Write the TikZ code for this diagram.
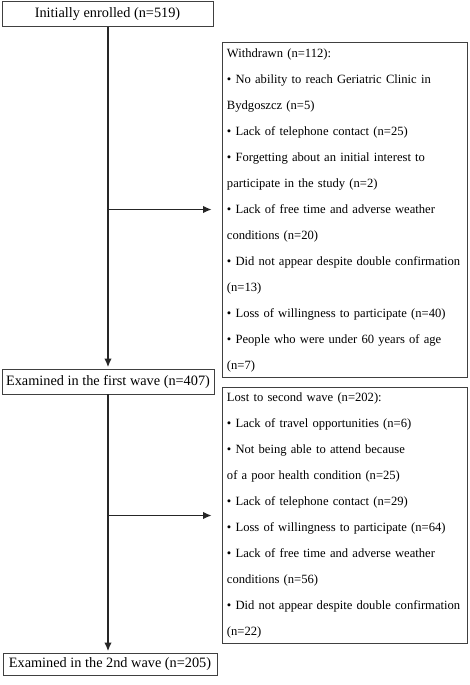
\documentclass[tikz,border=0pt]{standalone}
\usepackage{fontspec}
\setmainfont{Liberation Serif}
\usetikzlibrary{arrows.meta}
\begin{document}
\begin{tikzpicture}[x=1pt,y=-1pt,
  mainbox/.style={draw=black!75, line width=0.9pt, inner sep=0pt, minimum height=25pt,
    font=\fontsize{14.3}{16}\selectfont},
  sidebox/.style={draw=black!75, line width=0.9pt, anchor=north west, text width=236pt,
    align=left, inner xsep=4.5pt, inner ysep=5.5pt, font=\fontsize{12.6}{26}\selectfont},
  arr/.style={line width=1.2pt, draw=black!85, -{Latex[length=8.5pt,width=7.5pt]}}]
\useasboundingbox (0,0) rectangle (469,685);
\fill[white] (0,0) rectangle (469,685);

\node[mainbox, minimum width=211pt] (b1) at (107.5,14.2) {Initially enrolled (n=519)};
\node[mainbox, minimum width=212pt] (b2) at (108,381.5) {Examined in the first wave (n=407)};
\node[mainbox, minimum width=214pt, minimum height=22pt] (b3) at (110,664) {Examined in the 2nd wave (n=205)};

\node[sidebox] (wd) at (222,42.5) {Withdrawn (n=112):\\
\mbox{• No ability to reach Geriatric Clinic in}\\
Bydgoszcz (n=5)\\
\mbox{• Lack of telephone contact (n=25)}\\
\mbox{• Forgetting about an initial interest to}\\
participate in the study (n=2)\\
\mbox{• Lack of free time and adverse weather}\\
conditions (n=20)\\
\mbox{• Did not appear despite double confirmation}\\
(n=13)\\
\mbox{• Loss of willingness to participate (n=40)}\\
\mbox{• People who were under 60 years of age}\\
(n=7)};

\node[sidebox] (lw) at (222,387) {Lost to second wave (n=202):\\
\mbox{• Lack of travel opportunities (n=6)}\\
\mbox{• Not being able to attend because}\\
of a poor health condition (n=25)\\
\mbox{• Lack of telephone contact (n=29)}\\
\mbox{• Loss of willingness to participate (n=64)}\\
\mbox{• Lack of free time and adverse weather}\\
conditions (n=56)\\
\mbox{• Did not appear despite double confirmation}\\
(n=22)};

\draw[arr, shorten >=1.5pt] (b1.south -| 108,0) -- (b2.north -| 108,0);
\draw[arr, shorten >=1.5pt] (b2.south -| 108,0) -- (b3.north -| 108,0);
\coordinate (j1) at (108,209.5);
\coordinate (j2) at (108,515.5);
\draw[arr, shorten >=10.5pt] (j1) -- (wd.west |- j1);
\draw[arr, shorten >=10.5pt] (j2) -- (lw.west |- j2);
\end{tikzpicture}
\end{document}
